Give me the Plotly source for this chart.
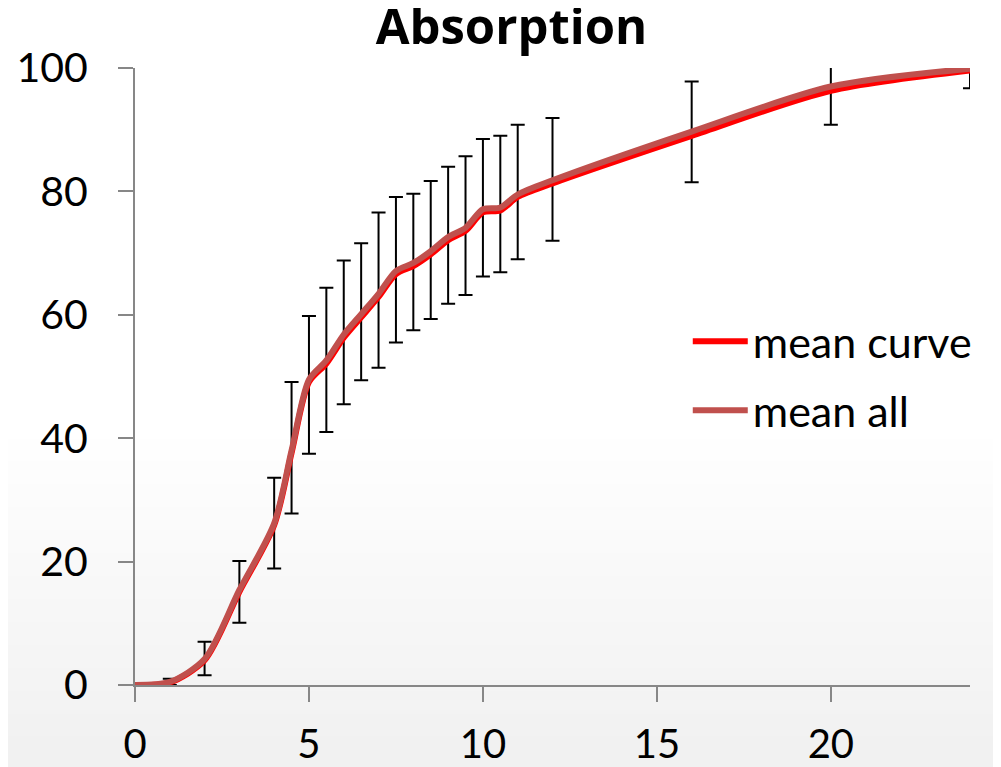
import plotly.graph_objects as go

# ---- data ----
hours = [0, 1, 2, 3, 4, 4.5, 5, 5.5, 6, 6.5, 7, 7.5, 8, 8.5, 9, 9.5, 10, 10.5, 11, 12, 16, 20, 24]
mean_all = [0, 0.5, 4.2, 15.4, 26.2, 38.0, 49.5, 52.6, 56.8, 60.1, 63.4, 67.1, 68.4, 70.3, 72.6, 74.1, 77.1, 77.4, 79.5, 81.8, 89.7, 97.0, 99.9]
mean_curve = [0, 0.4, 4.0, 15.1, 25.9, 37.6, 49.1, 52.1, 56.3, 59.6, 62.9, 66.6, 67.9, 69.8, 72.1, 73.6, 76.6, 76.9, 79.1, 81.3, 89.0, 96.3, 99.6]

bar_hours = [1, 2, 3, 4, 4.5, 5, 5.5, 6, 6.5, 7, 7.5, 8, 8.5, 9, 9.5, 10, 10.5, 11, 12, 16, 20, 24]
bar_center = [0.5, 4.2, 15.4, 26.2, 38.0, 49.5, 52.6, 56.8, 60.1, 63.4, 67.1, 68.4, 70.3, 72.6, 74.1, 77.1, 77.4, 79.5, 81.8, 89.7, 97.0, 99.9]
bar_top = [1.0, 7.0, 20.1, 33.6, 49.1, 59.8, 64.4, 68.8, 71.6, 76.6, 79.1, 79.6, 81.7, 84.0, 85.7, 88.5, 89.0, 90.8, 91.9, 97.8, 103.0, 103.0]
bar_bottom = [0.0, 1.6, 10.1, 18.9, 27.8, 37.5, 41.0, 45.5, 49.4, 51.4, 55.5, 57.5, 59.3, 61.8, 63.2, 66.2, 66.9, 69.0, 72.0, 81.5, 90.8, 96.7]

x_ticks = [0, 5, 10, 15, 20]
y_ticks = [0, 20, 40, 60, 80, 100]

plus = [t - c for t, c in zip(bar_top, bar_center)]
minus = [c - b for c, b in zip(bar_center, bar_bottom)]

FONT = "Lato"
AXIS_GREY = "#878787"

# the page body adds an 8px offset, so the figure is sized to the visible area
W, H = 993, 759

fig = go.Figure()

# error bars (drawn underneath the curves)
fig.add_trace(go.Scatter(
    x=bar_hours, y=bar_center, mode="markers",
    marker=dict(size=1, color="rgba(0,0,0,0)"),
    error_y=dict(type="data", symmetric=False, array=plus, arrayminus=minus,
                 color="black", thickness=2, width=7),
    showlegend=False, hoverinfo="skip",
))

fig.add_trace(go.Scatter(
    x=hours, y=mean_curve, mode="lines", name="mean curve",
    line=dict(color="#FF0000", width=6, shape="spline", smoothing=0.8),
    legendgroup="a",
))
fig.add_trace(go.Scatter(
    x=hours, y=mean_all, mode="lines", name="mean all",
    line=dict(color="#C0504D", width=6, shape="spline", smoothing=0.8),
    legendgroup="b",
))

# very subtle warm-grey gradient toward the bottom of the slide background
N = 14
for i in range(N):
    top = 0.40 - i * (0.52 / N)
    fig.add_shape(type="rect", xref="paper", yref="paper", x0=-0.2, x1=1.1,
                  y0=-0.3, y1=top, layer="below", line=dict(width=0),
                  fillcolor="rgba(215,203,190,0.02)")

fig.update_layout(
    width=W, height=H,
    margin=dict(l=127, r=31, t=60, b=82),
    paper_bgcolor="white", plot_bgcolor="rgba(0,0,0,0)",
    font=dict(family=FONT, size=40, color="black"),
    title=dict(text="<b>Absorption</b>", x=0.507, xanchor="center",
               yref="container", y=1 - 19 / H, yanchor="middle",
               font=dict(family="Open Sans", size=49, color="black")),
    showlegend=True,
    legend=dict(x=0.662, xanchor="left", y=0.613, yanchor="top",
                bgcolor="rgba(0,0,0,0)", font=dict(family=FONT, size=43),
                traceorder="grouped", tracegroupgap=10, itemwidth=55),
    xaxis=dict(range=[0, 24], tickvals=x_ticks, showgrid=False, zeroline=False,
               showline=True, linecolor=AXIS_GREY, linewidth=2,
               ticks="outside", ticklen=15, tickwidth=2, tickcolor=AXIS_GREY,
               tickfont=dict(family=FONT, size=40), ticklabelstandoff=8,
               automargin=False),
    yaxis=dict(range=[0, 100], tickvals=y_ticks, showgrid=False, zeroline=False,
               showline=True, linecolor=AXIS_GREY, linewidth=2,
               ticks="outside", ticklen=15, tickwidth=2, tickcolor=AXIS_GREY,
               tickfont=dict(family=FONT, size=41), ticklabelstandoff=22,
               automargin=False),
)

fig.write_html("out.html")
